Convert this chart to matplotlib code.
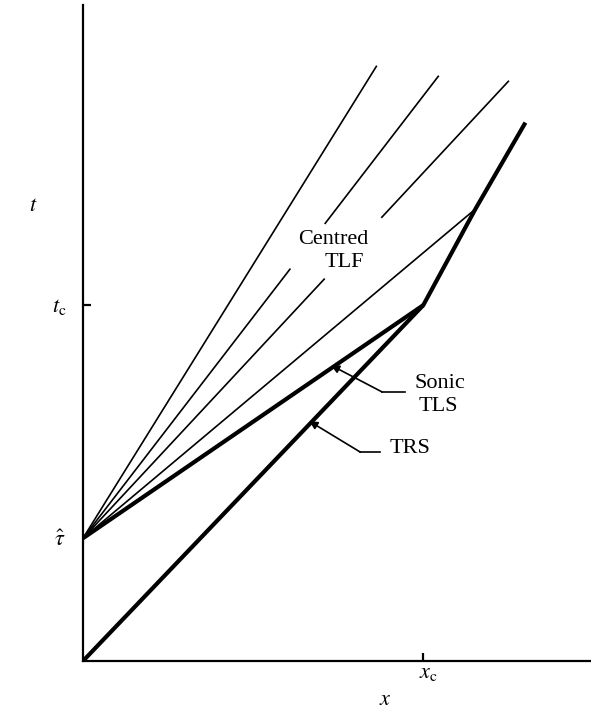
import matplotlib.pyplot as plt
import numpy as np

# valores (x_c = 1, t_c = 1)
x_c = 1.0
t_c = 1.0
tau = 0.345

# TRS: recta desde el origen hasta (x_c, t_c) y despues curva
trs_x = [0.0, 1.0, 1.153, 1.297]
trs_t = [0.0, 1.0, 1.270, 1.508]

# TLS sonico desde (0, tau) hasta (x_c, t_c)
tls_x = [0.0, 1.0]
tls_t = [tau, 1.0]

# abanico centrado (TLF): extremos de cada rayo y hueco para el texto (en t)
fan_end_x = [0.862, 1.044, 1.25, 1.153]
fan_end_t = [1.671, 1.643, 1.629, 1.270]
fan_gap = [None, (1.101, 1.230), (1.073, 1.247), None]

plt.rcParams['font.family'] = ['Liberation Serif', 'DejaVu Serif']
plt.rcParams['mathtext.fontset'] = 'stix'

fig = plt.figure(figsize=(5.91, 7.09), dpi=100)
ax = fig.add_axes([0.1404, 0.0677, 0.858, 0.925])
ax.set_xlim(0, 1.49)
ax.set_ylim(0, 1.843)

for s in ['top', 'right']:
    ax.spines[s].set_visible(False)
for s in ['left', 'bottom']:
    ax.spines[s].set_linewidth(1.6)

# ticks solo en x_c y t_c, hacia dentro, sin etiqueta
ax.set_xticks([x_c])
ax.set_yticks([t_c])
ax.set_xticklabels([])
ax.set_yticklabels([])
ax.tick_params(direction='in', length=6, width=1.6)

# rayos del abanico
for xe, te, gap in zip(fan_end_x, fan_end_t, fan_gap):
    m = (te - tau) / xe
    if gap is None:
        ax.plot([0, xe], [tau, te], color='k', lw=1.2)
    else:
        lo, hi = gap
        ax.plot([0, (lo - tau) / m], [tau, lo], color='k', lw=1.2)
        ax.plot([(hi - tau) / m, xe], [hi, te], color='k', lw=1.2)

# TLS y TRS en trazo grueso
ax.plot(tls_x, tls_t, color='k', lw=3.0, solid_capstyle='butt')
ax.plot(trs_x, trs_t, color='k', lw=3.0, solid_joinstyle='round')

# textos
fs = 16
ax.text(0.735, 1.185, 'Centred', ha='center', va='center', fontsize=fs)
ax.text(0.768, 1.121, 'TLF', ha='center', va='center', fontsize=fs)
ax.text(1.05, 0.781, 'Sonic', ha='center', va='center', fontsize=fs)
ax.text(1.044, 0.716, 'TLS', ha='center', va='center', fontsize=fs)
ax.text(0.9, 0.596, 'TRS', ha='left', va='center', fontsize=fs)

# lineas indicadoras con flecha
ax.plot([0.879, 0.947], [0.756, 0.756], color='k', lw=1.2)
ax.annotate('', xy=(0.729, 0.831), xytext=(0.879, 0.756),
            arrowprops=dict(arrowstyle='-|>', color='k', lw=1.2,
                            mutation_scale=12, shrinkA=0, shrinkB=0))
ax.plot([0.815, 0.874], [0.587, 0.587], color='k', lw=1.2)
ax.annotate('', xy=(0.665, 0.674), xytext=(0.815, 0.587),
            arrowprops=dict(arrowstyle='-|>', color='k', lw=1.2,
                            mutation_scale=12, shrinkA=0, shrinkB=0))

# etiquetas de los ejes
ax.text(-0.147, 1.278, '$t$', ha='center', va='center', fontsize=fs, clip_on=False)
ax.text(-0.07, 0.994, r'$t_{\rm c}$', ha='center', va='center', fontsize=fs, clip_on=False)
ax.text(-0.068, tau - 0.006, r'$\hat{\tau}$', ha='center', va='center', fontsize=fs, clip_on=False)
ax.text(x_c + 0.015, -0.034, r'$x_{\rm c}$', ha='center', va='center', fontsize=fs, clip_on=False)
ax.text(0.888, -0.11, '$x$', ha='center', va='center', fontsize=fs, clip_on=False)

fig.savefig('out.png', dpi=100)
